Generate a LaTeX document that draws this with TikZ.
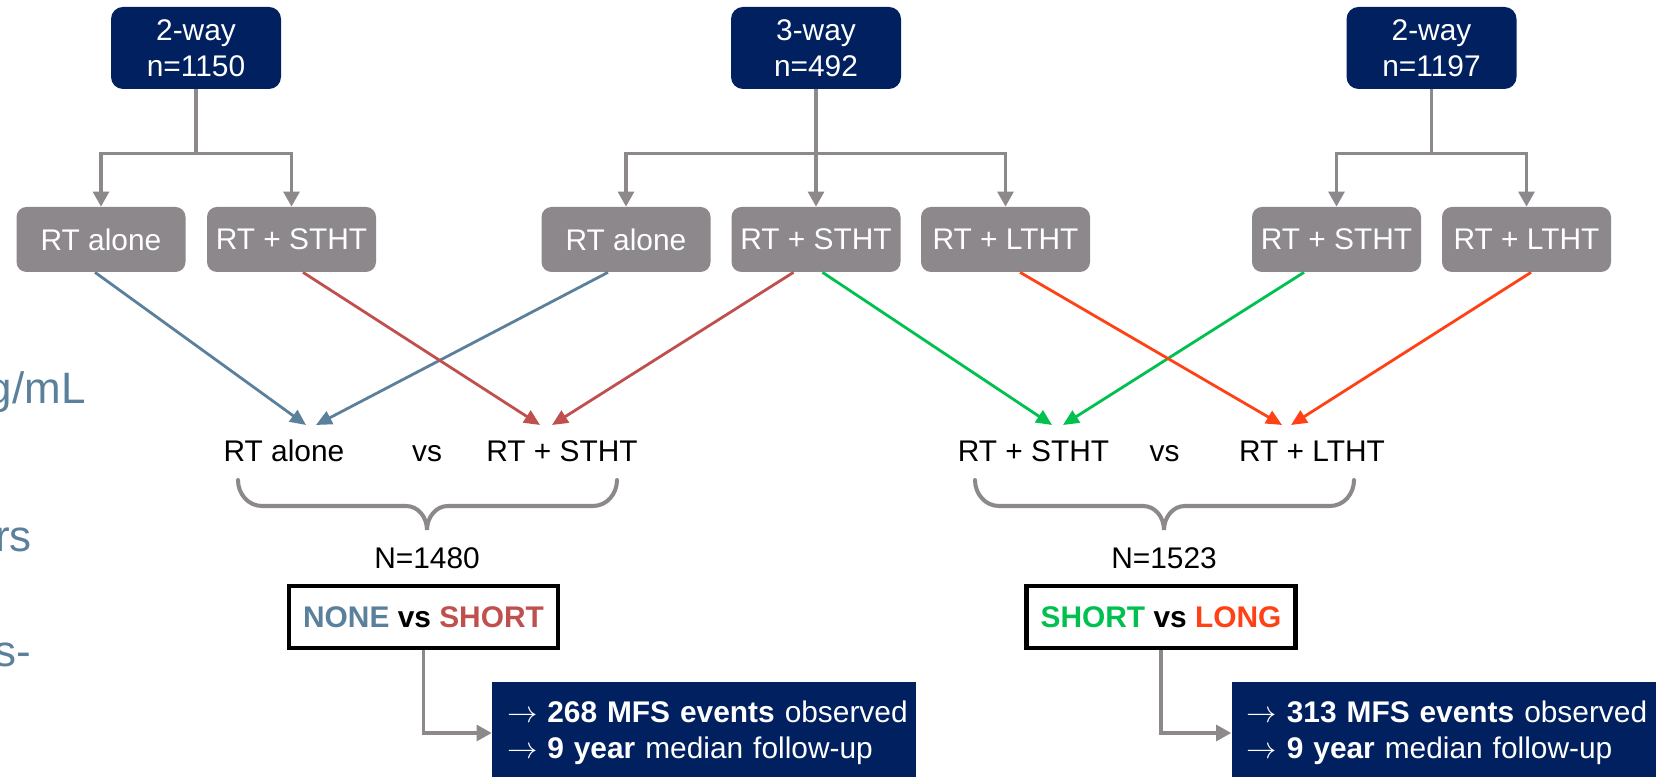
\documentclass[tikz,border=0pt]{standalone}
\usepackage{fontspec}
\setmainfont{Liberation Sans}
\usetikzlibrary{arrows.meta,positioning}

\definecolor{navy}{HTML}{00205F}
\definecolor{boxgray}{HTML}{8C888B}
\definecolor{noneblue}{HTML}{5B809B}
\definecolor{shortred}{HTML}{C0504D}
\definecolor{shortgreen}{HTML}{00C050}
\definecolor{longorange}{HTML}{FF4216}

\newcommand{\resarrow}{$\rightarrow$}

\tikzset{
	trial/.style={fill=navy,text=white,rounded corners=0.24cm,minimum width=3.4cm,minimum height=1.64cm,align=center,inner sep=0pt,font=\fontsize{17}{20.5}\selectfont},
	arm/.style={fill=boxgray,text=white,rounded corners=0.2cm,minimum width=3.38cm,minimum height=1.3cm,inner sep=0pt,font=\fontsize{17}{20.5}\selectfont},
	armlabel/.style={anchor=base,inner sep=0pt,font=\fontsize{17}{20.5}\selectfont},
	splitline/.style={draw=boxgray,line width=1.8pt,-{Triangle[width=9pt,length=8.5pt]}},
	feed/.style={line width=1.6pt,-{Triangle[width=8pt,length=9pt]}},
	curly/.style={draw=boxgray,line width=2.3pt,line cap=round},
	verdict/.style={draw=black,line width=2.3pt,minimum width=5.38cm,minimum height=1.24cm,inner sep=0pt,font=\bfseries\fontsize{17}{20.5}\selectfont},
	result/.style={fill=navy,text=white,minimum width=8.48cm,minimum height=2.04cm,text width=7.88cm,inner xsep=0.3cm,inner ysep=0pt,align=left,font=\fontsize{17}{20.5}\selectfont},
	sidetext/.style={anchor=base east,inner sep=0pt,text=noneblue,font=\fontsize{25}{30}\selectfont}
}

\begin{document}
\begin{tikzpicture}
	\useasboundingbox (0,0) rectangle (33.46,15.54);

	%SIDE TEXT (CUT OFF)
	\node[sidetext] (side1) at (1.72,7.46) {g/mL};
	\node[sidetext] (side2) at (0.64,4.5) {rs};
	\node[sidetext] (side3) at (0.62,2.2) {s-};

	%TRIALS
	\node[trial] (t1) at (3.92,14.58) {2-way\\n=1150};
	\node[trial] (t2) at (16.32,14.58) {3-way\\n=492};
	\node[trial] (t3) at (28.63,14.58) {2-way\\n=1197};

	%ARMS
	\foreach \n/\x/\t in {a1/2.02/RT alone, a2/5.83/RT + STHT, a3/12.52/RT alone, a4/16.32/RT + STHT, a5/20.11/RT + LTHT, a6/26.73/RT + STHT, a7/30.53/RT + LTHT}{
	\node[arm] (\n) at (\x,10.75) {\t};
	}
	\draw[splitline] (t1.south) -- ++(0,-1.28) -| (a1.north);
	\draw[splitline] (t1.south) -- ++(0,-1.28) -| (a2.north);
	\draw[splitline] (t2.south) -- ++(0,-1.28) -| (a3.north);
	\draw[splitline] (t2.south) -- (a4.north);
	\draw[splitline] (t2.south) -- ++(0,-1.28) -| (a5.north);
	\draw[splitline] (t3.south) -- ++(0,-1.28) -| (a6.north);
	\draw[splitline] (t3.south) -- ++(0,-1.28) -| (a7.north);

	%COMPARISONS
	\node[armlabel] (c1) at (5.68,6.3) {RT alone};
	\node[armlabel] (c1vs) at (8.54,6.3) {vs};
	\node[armlabel] (c2) at (11.24,6.3) {RT + STHT};
	\node[armlabel] (c3) at (20.67,6.3) {RT + STHT};
	\node[armlabel] (c3vs) at (23.29,6.3) {vs};
	\node[armlabel] (c4) at (26.24,6.3) {RT + LTHT};

	\coordinate (tipA1) at (6.12,7.04);
	\coordinate (tipA2) at (6.32,7.04);
	\coordinate (tipB1) at (10.8,7.04);
	\coordinate (tipB2) at (11.04,7.04);
	\coordinate (tipC1) at (21.04,7.04);
	\coordinate (tipC2) at (21.26,7.04);
	\coordinate (tipD1) at (25.64,7.04);
	\coordinate (tipD2) at (25.82,7.04);

	\foreach \s/\dx/\e/\c in {a1/-0.12/tipA1/noneblue, a3/-0.36/tipA2/noneblue, a2/0.23/tipB1/shortred, a4/-0.45/tipB2/shortred, a4/0.13/tipC1/shortgreen, a6/-0.65/tipC2/shortgreen, a5/0.29/tipD1/longorange, a7/0.09/tipD2/longorange}{
	\draw[feed,color=\c] ([xshift=\dx cm]\s.south) -- (\e);
	}

	%BRACES
	\foreach \l/\m/\r in {4.76/8.54/12.34, 19.5/23.28/27.08}{
	\draw[curly] (\l,5.94) to[out=-90,in=180] (\l+0.48,5.42) -- (\m-0.42,5.42) to[out=0,in=90] (\m,4.94)
		to[out=90,in=180] (\m+0.42,5.42) -- (\r-0.48,5.42) to[out=0,in=-90] (\r,5.94);
	}
	\node[armlabel] (n1) at (8.54,4.16) {N=1480};
	\node[armlabel] (n2) at (23.28,4.16) {N=1523};

	%VERDICTS
	\node[verdict] (v1) at (8.47,3.2) {\textcolor{noneblue}{NONE} vs \textcolor{shortred}{SHORT}};
	\node[verdict] (v2) at (23.22,3.2) {\textcolor{shortgreen}{SHORT} vs \textcolor{longorange}{LONG}};

	%RESULTS
	\node[result] (r1) at (14.08,0.88) {\mbox{\resarrow\ \textbf{268 MFS events} observed}\\\mbox{\resarrow\ \textbf{9 year} median follow-up}};
	\node[result] (r2) at (28.87,0.88) {\mbox{\resarrow\ \textbf{313 MFS events} observed}\\\mbox{\resarrow\ \textbf{9 year} median follow-up}};
	\draw[splitline] (v1.south) |- (r1.west);
	\draw[splitline] (v2.south) |- (r2.west);

	%\draw[help lines] (0,0) grid (33,15);
\end{tikzpicture}
\end{document}
